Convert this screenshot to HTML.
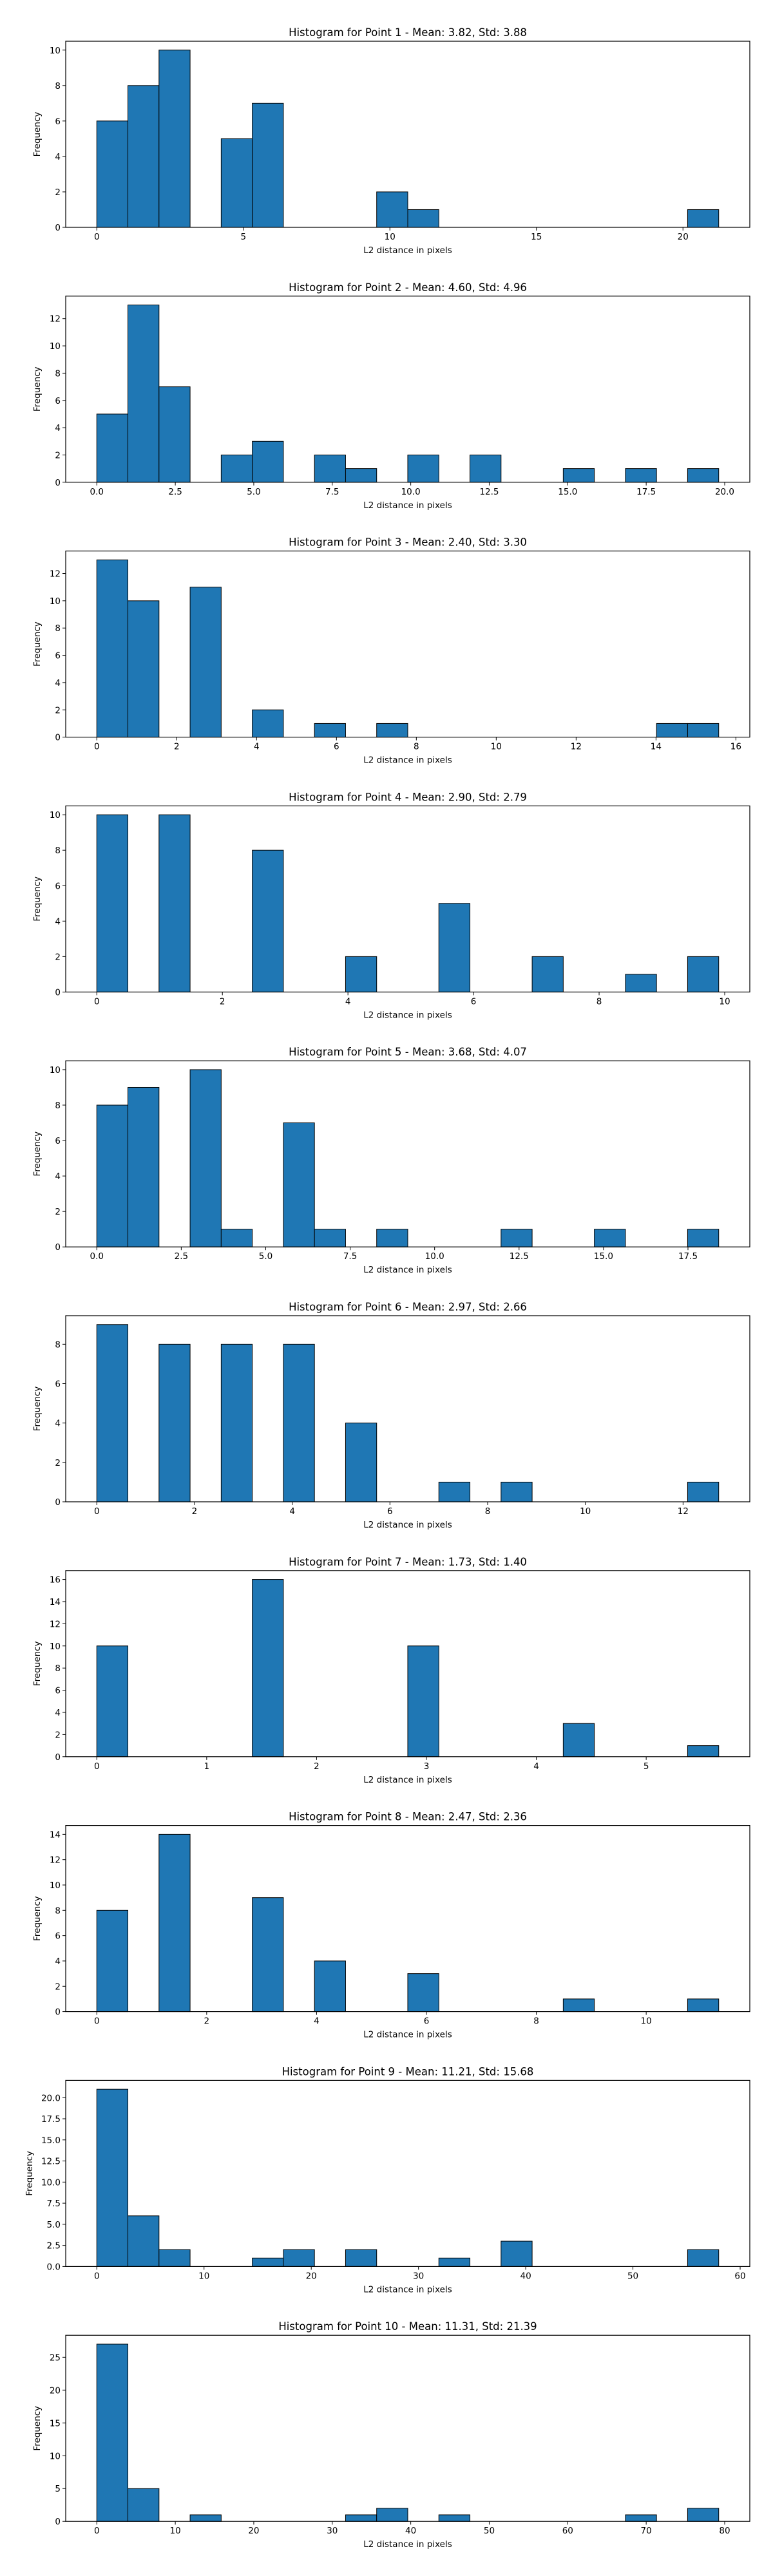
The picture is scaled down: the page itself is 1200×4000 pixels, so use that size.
<!DOCTYPE html>
<html><head><meta charset="utf-8"><style>
html,body{margin:0;padding:0;background:#fff}
svg{display:block}
text{font-family:"DejaVu Sans","Liberation Sans",sans-serif;fill:#000}
</style></head>
<body>
<svg id="fig" width="1200" height="4000" viewBox="0 0 1200 4000" xmlns="http://www.w3.org/2000/svg"></svg>
<script>
const titles = ["Histogram for Point 1 - Mean: 3.82, Std: 3.88","Histogram for Point 2 - Mean: 4.60, Std: 4.96","Histogram for Point 3 - Mean: 2.40, Std: 3.30","Histogram for Point 4 - Mean: 2.90, Std: 2.79","Histogram for Point 5 - Mean: 3.68, Std: 4.07","Histogram for Point 6 - Mean: 2.97, Std: 2.66","Histogram for Point 7 - Mean: 1.73, Std: 1.40","Histogram for Point 8 - Mean: 2.47, Std: 2.36","Histogram for Point 9 - Mean: 11.21, Std: 15.68","Histogram for Point 10 - Mean: 11.31, Std: 21.39"];
const binMin = [0,0,0,0,0,0,0,0,0,0];
const binMax = [21.22,19.81,15.57,9.905,18.41,12.73,5.66,11.32,58.0,79.24];
const counts1 = [6,8,10,0,5,7,0,0,0,2,1,0,0,0,0,0,0,0,0,1];
const counts2 = [5,13,7,0,2,3,0,2,1,0,2,0,2,0,0,1,0,1,0,1];
const counts3 = [13,10,0,11,0,2,0,1,0,1,0,0,0,0,0,0,0,0,1,1];
const counts4 = [10,0,10,0,0,8,0,0,2,0,0,5,0,0,2,0,0,1,0,2];
const counts5 = [8,9,0,10,1,0,7,1,0,1,0,0,0,1,0,0,1,0,0,1];
const counts6 = [9,0,8,0,8,0,8,0,4,0,0,1,0,1,0,0,0,0,0,1];
const counts7 = [10,0,0,0,0,16,0,0,0,0,10,0,0,0,0,3,0,0,0,1];
const counts8 = [8,0,14,0,0,9,0,4,0,0,3,0,0,0,0,1,0,0,0,1];
const counts9 = [21,6,2,0,0,1,2,0,2,0,0,1,0,3,0,0,0,0,0,2];
const counts10 = [27,5,0,1,0,0,0,0,1,2,0,1,0,0,0,0,0,1,0,2];
const xTicks1 = ["0","5","10","15","20"];
const xTicks2 = ["0.0","2.5","5.0","7.5","10.0","12.5","15.0","17.5","20.0"];
const xTicks3 = ["0","2","4","6","8","10","12","14","16"];
const xTicks4 = ["0","2","4","6","8","10"];
const xTicks5 = ["0.0","2.5","5.0","7.5","10.0","12.5","15.0","17.5"];
const xTicks6 = ["0","2","4","6","8","10","12"];
const xTicks7 = ["0","1","2","3","4","5"];
const xTicks8 = ["0","2","4","6","8","10"];
const xTicks9 = ["0","10","20","30","40","50","60"];
const xTicks10 = ["0","10","20","30","40","50","60","70","80"];
const yTicks1 = ["0","2","4","6","8","10"];
const yTicks2 = ["0","2","4","6","8","10","12"];
const yTicks3 = ["0","2","4","6","8","10","12"];
const yTicks4 = ["0","2","4","6","8","10"];
const yTicks5 = ["0","2","4","6","8","10"];
const yTicks6 = ["0","2","4","6","8"];
const yTicks7 = ["0","2","4","6","8","10","12","14","16"];
const yTicks8 = ["0","2","4","6","8","10","12","14"];
const yTicks9 = ["0.0","2.5","5.0","7.5","10.0","12.5","15.0","17.5","20.0"];
const yTicks10 = ["0","5","10","15","20","25"];

const allCounts=[counts1,counts2,counts3,counts4,counts5,counts6,counts7,counts8,counts9,counts10];
const allX=[xTicks1,xTicks2,xTicks3,xTicks4,xTicks5,xTicks6,xTicks7,xTicks8,xTicks9,xTicks10];
const allY=[yTicks1,yTicks2,yTicks3,yTicks4,yTicks5,yTicks6,yTicks7,yTicks8,yTicks9,yTicks10];
const NS="http://www.w3.org/2000/svg";
const fig=document.getElementById('fig');
function mk(tag,attrs,parent){const e=document.createElementNS(NS,tag);for(const k in attrs)e.setAttribute(k,attrs[k]);parent.appendChild(e);return e;}
const AX_L=102, AX_W=1062, AX_H=289, TOP0=64, STEP=395.8;
for(let p=0;p<10;p++){
  const top=TOP0+STEP*p, bot=top+AX_H;
  const g=mk('g',{},fig);
  
  
  const c=allCounts[p], lo=binMin[p], hi=binMax[p];
  const span=hi-lo, x0=lo-0.05*span, x1=hi+0.05*span;
  const ymax=Math.max(...c)*1.05;
  const X=v=>AX_L+(v-x0)/(x1-x0)*AX_W;
  const Y=v=>bot-v/ymax*AX_H;
  const bw=span/c.length;
  for(let i=0;i<c.length;i++){
    const xa=X(lo+i*bw), xb=X(lo+(i+1)*bw);
    const r=mk('rect',{x:xa,y:Y(c[i]),width:xb-xa,height:bot-Y(c[i]),fill:'#1f77b4',stroke:'#000','stroke-width':1},g);
    
    
  }
  const fr=mk('rect',{x:AX_L,y:top,width:AX_W,height:AX_H,fill:'none',stroke:'#000','stroke-width':1.2},g);
  
  
  allX[p].forEach(t=>{
    const xv=X(parseFloat(t));
    mk('line',{x1:xv,x2:xv,y1:bot,y2:bot+5,stroke:'#000','stroke-width':1},g);
    const tx=mk('text',{x:xv,y:bot+19,'text-anchor':'middle','font-size':'13.5'},g);
    tx.textContent=t;
    
    
  });
  allY[p].forEach(t=>{
    const yv=Y(parseFloat(t));
    mk('line',{x1:AX_L-5,x2:AX_L,y1:yv,y2:yv,stroke:'#000','stroke-width':1},g);
    const ty=mk('text',{x:AX_L-8,y:yv+5,'text-anchor':'end','font-size':'13.5'},g);
    ty.textContent=t;
    
    
  });
  const ti=mk('text',{x:AX_L+AX_W/2,y:top-8,'text-anchor':'middle','font-size':'16.5'},g);
  ti.textContent=titles[p];
  
  
  const xl=mk('text',{x:AX_L+AX_W/2,y:bot+40,'text-anchor':'middle','font-size':'13.5'},g);
  xl.textContent='L2 distance in pixels';
  
  
  const ylx=(p===8)?50:62;
  const yl=mk('text',{x:ylx,y:top+AX_H/2,'text-anchor':'middle','font-size':'13.5',transform:'rotate(-90 '+ylx+' '+(top+AX_H/2)+')'},g);
  yl.textContent='Frequency';
  
  
}
</script>
</body></html>
